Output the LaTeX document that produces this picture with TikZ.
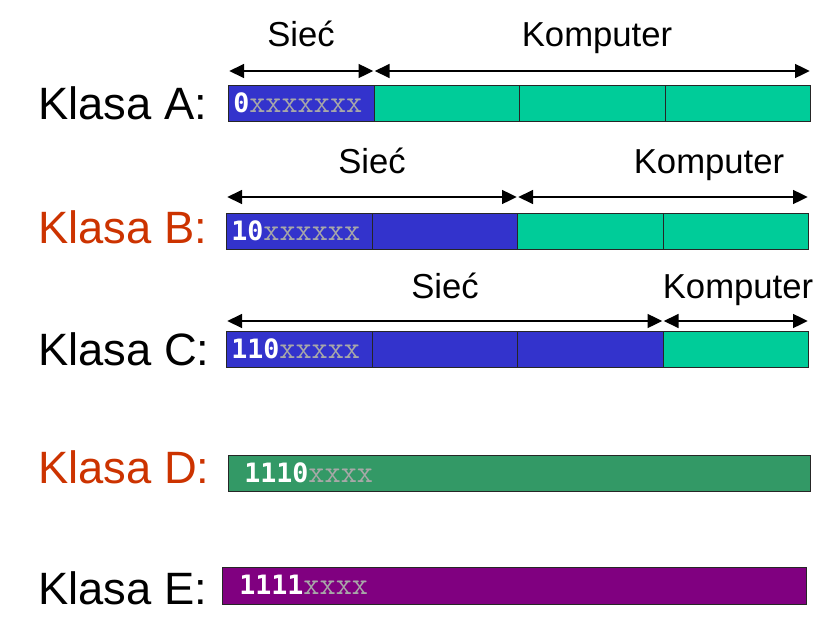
\documentclass[tikz,border=0pt]{standalone}
\usepackage{fontspec}
\setmainfont{Liberation Sans}
\newfontfamily\digitfont{DejaVu Sans Mono}
\usetikzlibrary{arrows.meta}

\definecolor{netblue}{HTML}{3333CC}
\definecolor{hostgreen}{HTML}{00CC99}
\definecolor{dgreen}{HTML}{339966}
\definecolor{epurple}{HTML}{800080}
\definecolor{klred}{HTML}{CC3300}
\definecolor{xgray}{HTML}{A8A8A8}

\newcommand{\bits}[2]{{\digitfont\bfseries\color{white}#1}{\ttfamily\fontsize{23.5}{26}\selectfont\color{xgray}#2}}

\begin{document}
\begin{tikzpicture}[x=0.75pt,y=-0.75pt,
  seg/.style={draw=black!85,line width=0.8pt,inner sep=0pt,anchor=north west,
    minimum width=109.125pt,minimum height=27pt},
  arr/.style={line width=1pt,{Triangle[length=11pt,width=10.5pt]}-{Triangle[length=11pt,width=10.5pt]},
    shorten <=1pt,shorten >=1pt},
  klasa/.style={anchor=base west,inner sep=0pt,font=\fontsize{34}{40}\selectfont},
  part/.style={anchor=base,inner sep=0pt,font=\fontsize{26}{30}\selectfont},
  bitstext/.style={anchor=base west,inner sep=0pt,font=\fontsize{20}{24}\selectfont}]
\useasboundingbox (0,0) rectangle (836,632);

% klasa A
\node[seg,fill=netblue] (a1) at (228,85) {};
\node[seg,fill=hostgreen] (a2) at (373.5,85) {};
\node[seg,fill=hostgreen] (a3) at (519,85) {};
\node[seg,fill=hostgreen] (a4) at (664.5,85) {};
\draw[arr] ([yshift=10.5pt]a1.north west) -- ([yshift=10.5pt]a1.north east);
\draw[arr] ([yshift=10.5pt]a2.north west) -- ([yshift=10.5pt]a4.north east);
\node[part] (sieca) at (301,46) {Sieć};
\node[part] (kompa) at (597,46) {Komputer};
\node[klasa] (klA) at (38,119) {Klasa A:};
\node[bitstext] (bitA) at (233,112) {\bits{0}{xxxxxxx}};

% klasa B
\node[seg,fill=netblue] (b1) at (226,213) {};
\node[seg,fill=netblue] (b2) at (371.5,213) {};
\node[seg,fill=hostgreen] (b3) at (517,213) {};
\node[seg,fill=hostgreen] (b4) at (662.5,213) {};
\draw[arr] ([yshift=12pt]b1.north west) -- ([yshift=12pt]b2.north east);
\draw[arr] ([yshift=12pt]b3.north west) -- ([yshift=12pt]b4.north east);
\node[part] (siecb) at (372,173) {Sieć};
\node[part] (kompb) at (709,173) {Komputer};
\node[klasa,text=klred] (klB) at (38,243) {Klasa B:};
\node[bitstext] (bitB) at (231,240) {\bits{10}{xxxxxx}};

% klasa C
\node[seg,fill=netblue] (c1) at (226,331) {};
\node[seg,fill=netblue] (c2) at (371.5,331) {};
\node[seg,fill=netblue] (c3) at (517,331) {};
\node[seg,fill=hostgreen] (c4) at (662.5,331) {};
\draw[arr] ([yshift=7.5pt]c1.north west) -- ([yshift=7.5pt]c3.north east);
\draw[arr] ([yshift=7.5pt]c4.north west) -- ([yshift=7.5pt]c4.north east);
\node[part] (siecc) at (445,298) {Sieć};
\node[part] (kompc) at (738,298) {Komputer};
\node[klasa] (klC) at (38,365) {Klasa C:};
\node[bitstext] (bitC) at (231,358) {\bits{110}{xxxxx}};

% klasa D
\node[seg,fill=dgreen,minimum width=436.5pt] (d) at (228,455) {};
\node[klasa,text=klred] (klD) at (38,483) {Klasa D:};
\node[bitstext] (bitD) at (244,482) {\bits{1110}{xxxx}};

% klasa E
\node[seg,fill=epurple,minimum width=438pt,minimum height=27.75pt] (e) at (222,567) {};
\node[klasa] (klE) at (38,604) {Klasa E:};
\node[bitstext] (bitE) at (239,594) {\bits{1111}{xxxx}};
\end{tikzpicture}
\end{document}
